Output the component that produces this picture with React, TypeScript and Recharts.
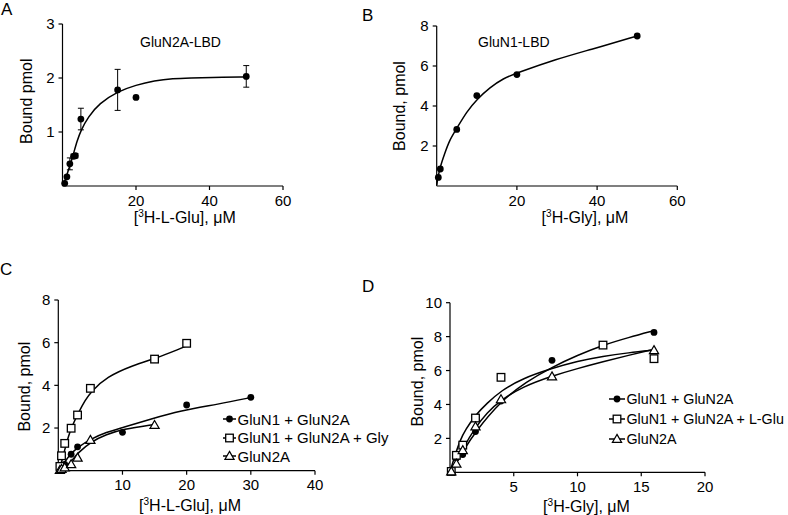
import {ComposedChart, ErrorBar, Legend, Line, Scatter, XAxis, YAxis} from 'recharts';

// A: GluN2A-LBD, [3H-L-Glu] binding
const aX = [0.6, 1.2, 2, 3, 3.5, 5, 15, 20, 50];
const aY = [0.05, 0.17, 0.41, 0.55, 0.56, 1.24, 1.78, 1.64, 2.03];
const aErr = [0, 0, 0.11, 0.04, 0.04, 0.2, 0.38, 0, 0.2];
const aFitX = [0, 0.5, 1, 2, 3, 4, 5, 7, 10, 15, 20, 25, 30, 35, 40, 50];
const aFitY = [0, 0.07, 0.17, 0.37, 0.6, 0.84, 1.03, 1.28, 1.53, 1.75, 1.87, 1.95, 1.99, 2.0, 2.01, 2.02];

// B: GluN1-LBD, [3H-Gly] binding
const bX = [0.4, 0.9, 5, 10, 20, 50];
const bY = [0.43, 0.85, 2.83, 4.52, 5.57, 7.5];
const bFitX = [0, 0.7, 2, 3.2, 5, 7.5, 10, 13.3, 16.6, 20, 30, 38, 50];
const bFitY = [0.05, 0.88, 1.63, 2.3, 2.88, 3.72, 4.33, 4.93, 5.38, 5.65, 6.35, 6.8, 7.5];

// C: [3H-L-Glu]
const cN1N2X = [0.25, 0.5, 1, 2, 3, 10, 20, 30];
const cN1N2Y = [0.05, 0.12, 0.3, 0.77, 1.12, 1.8, 3.08, 3.44];
const cGlyX = [0.25, 0.5, 1, 2, 3, 5, 15, 20];
const cGlyY = [0.2, 0.7, 1.28, 1.99, 2.61, 3.86, 5.23, 5.97];
const cN2X = [0.25, 0.5, 1, 2, 3, 5, 15];
const cN2Y = [0.03, 0.08, 0.15, 0.3, 0.61, 1.44, 2.14];
const cN1N2FitX = [0.25, 1, 2, 3, 5, 7.5, 10, 14.3, 19, 25, 30];
const cN1N2FitY = [0.03, 0.42, 0.81, 1.09, 1.48, 1.81, 2.02, 2.41, 2.81, 3.12, 3.43];
const cGlyFitX = [0.1, 0.6, 1.1, 1.6, 2.1, 3.2, 4.2, 5.1, 7.5, 11.7, 15.1, 19, 20];
const cGlyFitY = [0, 0.5, 1.09, 1.63, 2.06, 2.76, 3.31, 3.7, 4.4, 4.95, 5.26, 5.72, 5.85];
const cN2FitX = [0.25, 1.3, 2.1, 3.1, 5.1, 7.5, 10, 15];
const cN2FitY = [0, 0.19, 0.47, 0.85, 1.36, 1.7, 1.94, 2.17];

// D: [3H-Gly]
const dN1N2X = [0.1, 0.5, 1, 2, 4, 8, 16];
const dN1N2Y = [0.05, 0.85, 1.05, 2.4, 4.2, 6.6, 8.25];
const dGluX = [0.1, 0.5, 1, 2, 4, 12, 16];
const dGluY = [0.05, 1.0, 1.6, 3.2, 5.6, 7.5, 6.7];
const dN2X = [0.1, 0.5, 1, 2, 4, 8, 16];
const dN2Y = [0.05, 0.5, 1.3, 2.7, 4.3, 5.65, 7.2];
const dN1N2FitX = [0, 0.5, 1, 2, 4, 6, 8, 10, 12, 14, 16];
const dN1N2FitY = [0.04, 0.53, 1.22, 2.4, 4.21, 5.35, 6.2, 6.9, 7.5, 7.95, 8.35];
const dGluFitX = [0, 0.4, 0.8, 1.2, 2, 2.9, 4, 5.7, 8, 10, 12, 14, 16];
const dGluFitY = [0.04, 1.02, 1.9, 2.49, 3.38, 4.07, 4.81, 5.54, 6.13, 6.55, 6.85, 7.05, 7.2];
const dN2FitX = [0, 0.5, 1, 2, 2.9, 4, 5.7, 8, 10, 12, 14, 16];
const dN2FitY = [0.04, 0.57, 1.41, 2.65, 3.52, 4.26, 5.05, 5.68, 6.12, 6.52, 6.9, 7.25];

const legendC = ['GluN1 + GluN2A', 'GluN1 + GluN2A + Gly', 'GluN2A'];
const legendD = ['GluN1 + GluN2A', 'GluN1 + GluN2A + L-Glu', 'GluN2A'];
const shapes = ['circle', 'square', 'triangle'];

const pts = (xs: number[], ys: number[], errs?: number[]) =>
    xs.map((x, i) => ({x, y: ys[i], err: errs ? errs[i] : 0}));

const Marker = ({cx, cy, kind}: {cx: number, cy: number, kind: string}) => {
    if (kind === 'square') {
        return <rect x={cx - 3.8} y={cy - 3.8} width={7.6} height={7.6} fill="#fff" stroke="#000" strokeWidth={1.3}/>
    }
    if (kind === 'triangle') {
        return <polygon points={`${cx},${cy - 4.6} ${cx + 4.6},${cy + 3.4} ${cx - 4.6},${cy + 3.4}`}
                        fill="#fff" stroke="#000" strokeWidth={1.2}/>
    }
    return <circle cx={cx} cy={cy} r={3.4} fill="#000"/>
}

const shapeOf = (kind: string) => (p: any) => <Marker cx={p.cx} cy={p.cy} kind={kind}/>

const xTitle = (text: string, dx: number, dy: number) => ({
    content: ({viewBox}: any) => (
        <text x={viewBox.x + viewBox.width / 2 + dx} y={viewBox.y + dy} textAnchor="middle" fontSize={16} fill="#000">
            [<tspan dy={-6} fontSize={10}>3</tspan><tspan dy={6}>{text}</tspan>
        </text>
    ),
})

const yTitle = (text: string, dx: number, dy: number) => ({
    content: ({viewBox}: any) => {
        const cx = viewBox.x + viewBox.width + dx
        const cy = viewBox.y + viewBox.height / 2 + dy
        return (
            <text x={cx} y={cy} transform={`rotate(-90 ${cx} ${cy})`} textAnchor="middle" fontSize={16} fill="#000">
                {text}
            </text>
        )
    },
})

const LegendBox = ({names, rowH, lineW, fontSize}: {names: string[], rowH: number, lineW: number, fontSize: number}) => (
    <div>
        {names.map((name, i) => (
            <div key={name} style={{display: 'flex', alignItems: 'center', height: rowH, whiteSpace: 'nowrap'}}>
                <svg width={lineW} height={10} style={{overflow: 'visible'}}>
                    <line x1={0} y1={5} x2={lineW} y2={5} stroke="#000" strokeWidth={1.5}/>
                    <Marker cx={lineW / 2} cy={5} kind={shapes[i]}/>
                </svg>
                <span style={{marginLeft: 1.5, fontSize, color: '#000'}}>{name}</span>
            </div>
        ))}
    </div>
)

const axisProps = {
    axisLine: {stroke: '#000', strokeWidth: 1.2},
    tickLine: {stroke: '#000', strokeWidth: 1.2},
    tick: {fill: '#000', fontSize: 15},
    tickSize: 4,
    interval: 0 as const,
}

const fitLine = (xs: number[], ys: number[], key: string) => (
    <Line key={key} data={pts(xs, ys)} dataKey="y" type="basis" dot={false} stroke="#000"
          strokeWidth={1.5} isAnimationActive={false} legendType="none"/>
)

const App = () => {
    return (
        <div style={{
            position: 'absolute', left: 0, top: 0, width: 788, height: 515, background: '#fff',
            fontFamily: '"Liberation Sans", Arial, sans-serif',
        }}>
            <div style={{position: 'absolute', left: 0, top: 0}}>
                <ComposedChart width={330} height={240} margin={{top: 24, right: 47, bottom: 24, left: 22.5}}>
                    <XAxis type="number" dataKey="x" domain={[0, 60]} ticks={[20, 40, 60]} height={30}
                           tickMargin={5} {...axisProps} label={xTitle('H-L-Glu], μM', 12, 36.5)}/>
                    <YAxis type="number" dataKey="y" domain={[0, 3]} ticks={[1, 2, 3]} width={40}
                           tickMargin={4} {...axisProps} label={yTitle('Bound pmol', -30, -3.8)}/>
                    {fitLine(aFitX, aFitY, 'a')}
                    <Scatter data={pts(aX, aY, aErr)} shape={shapeOf('circle')} isAnimationActive={false}>
                        <ErrorBar dataKey="err" direction="y" width={3} stroke="#000" strokeWidth={1}/>
                    </Scatter>
                </ComposedChart>
            </div>

            <div style={{position: 'absolute', left: 390, top: 0}}>
                <ComposedChart width={330} height={240} margin={{top: 26, right: 42.7, bottom: 24, left: 16.7}}>
                    <XAxis type="number" dataKey="x" domain={[0, 60]} ticks={[20, 40, 60]} height={30}
                           tickMargin={5} {...axisProps} label={xTitle('H-Gly], μM', 28, 37)}/>
                    <YAxis type="number" dataKey="y" domain={[0, 8]} ticks={[2, 4, 6, 8]} width={30}
                           tickMargin={4} {...axisProps} label={yTitle('Bound, pmol', -32, 0)}/>
                    {fitLine(bFitX, bFitY, 'b')}
                    <Scatter data={pts(bX, bY)} shape={shapeOf('circle')} isAnimationActive={false}/>
                </ComposedChart>
            </div>

            <div style={{position: 'absolute', left: 0, top: 260}}>
                <ComposedChart width={390} height={255} margin={{top: 40, right: 75, bottom: 14.3, left: 28.3}}>
                    <XAxis type="number" dataKey="x" domain={[0, 40]} ticks={[10, 20, 30, 40]} height={30}
                           tickMargin={5} {...axisProps} label={xTitle('H-L-Glu], μM', 3.4, 40.5)}/>
                    <YAxis type="number" dataKey="y" domain={[0, 8]} ticks={[2, 4, 6, 8]} width={30}
                           tickMargin={4} {...axisProps} label={yTitle('Bound, pmol', -28.5, 1.3)}/>
                    {fitLine(cN1N2FitX, cN1N2FitY, 'c1')}
                    {fitLine(cGlyFitX, cGlyFitY, 'c2')}
                    {fitLine(cN2FitX, cN2FitY, 'c3')}
                    <Scatter data={pts(cN1N2X, cN1N2Y)} shape={shapeOf('circle')} isAnimationActive={false}/>
                    <Scatter data={pts(cGlyX, cGlyY)} shape={shapeOf('square')} isAnimationActive={false}/>
                    <Scatter data={pts(cN2X, cN2Y)} shape={shapeOf('triangle')} isAnimationActive={false}/>
                    <Legend layout="vertical" align="center" verticalAlign="middle"
                            wrapperStyle={{left: 223, top: 149.8, width: 'auto'}}
                            content={() => <LegendBox names={legendC} rowH={18.5} lineW={13} fontSize={15}/>}/>
                </ComposedChart>
            </div>

            <div style={{position: 'absolute', left: 390, top: 260}}>
                <ComposedChart width={398} height={255} margin={{top: 42.7, right: 83, bottom: 12.7, left: 30}}>
                    <XAxis type="number" dataKey="x" domain={[0, 20]} ticks={[5, 10, 15, 20]} height={30}
                           tickMargin={5} {...axisProps} label={xTitle('H-Gly], μM', 9, 39.4)}/>
                    <YAxis type="number" dataKey="y" domain={[0, 10]} ticks={[2, 4, 6, 8, 10]} width={30}
                           tickMargin={4} {...axisProps} label={yTitle('Bound, pmol', -26.8, -5.8)}/>
                    {fitLine(dN1N2FitX, dN1N2FitY, 'd1')}
                    {fitLine(dGluFitX, dGluFitY, 'd2')}
                    {fitLine(dN2FitX, dN2FitY, 'd3')}
                    <Scatter data={pts(dN1N2X, dN1N2Y)} shape={shapeOf('circle')} isAnimationActive={false}/>
                    <Scatter data={pts(dGluX, dGluY)} shape={shapeOf('square')} isAnimationActive={false}/>
                    <Scatter data={pts(dN2X, dN2Y)} shape={shapeOf('triangle')} isAnimationActive={false}/>
                    <Legend layout="vertical" align="center" verticalAlign="middle"
                            wrapperStyle={{left: 219, top: 129.3, width: 'auto'}}
                            content={() => <LegendBox names={legendD} rowH={20} lineW={16} fontSize={14.3}/>}/>
                </ComposedChart>
            </div>

            <svg width={788} height={515} style={{position: 'absolute', left: 0, top: 0, pointerEvents: 'none'}}>
                <text x={1} y={15} fontSize={17} fill="#000">A</text>
                <text x={362} y={20.5} fontSize={17} fill="#000">B</text>
                <text x={0} y={275} fontSize={17} fill="#000">C</text>
                <text x={362} y={292} fontSize={17} fill="#000">D</text>
                <text x={140} y={46.5} fontSize={14} fill="#000">GluN2A-LBD</text>
                <text x={478} y={46.5} fontSize={14} fill="#000">GluN1-LBD</text>
            </svg>
        </div>
    )
}

export default App
